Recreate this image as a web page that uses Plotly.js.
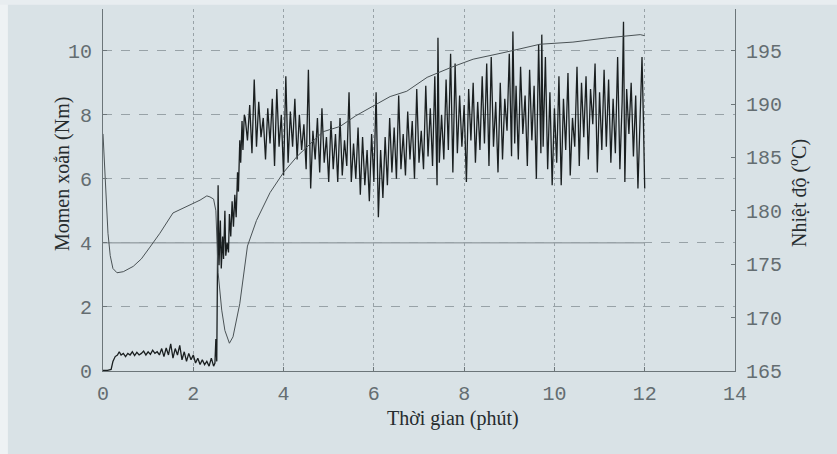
<!DOCTYPE html>
<html>
<head>
<meta charset="utf-8">
<script src="https://cdn.plot.ly/plotly-3.0.1.min.js"></script>
<style>html,body{margin:0;padding:0;background:#d9e2e6;}#chart{width:837px;height:454px;}</style>
</head>
<body>
<div id="chart"></div>
<script>
// Temperature (°C), right axis
const tempTime = [0, 0.03, 0.07, 0.11, 0.16, 0.22, 0.31, 0.45, 0.67, 0.85, 1.04, 1.26, 1.55, 1.85, 2.15, 2.3, 2.37, 2.45, 2.50, 2.55, 2.63, 2.70, 2.80, 2.88, 2.95, 3.03, 3.2, 3.4, 3.7, 4.0, 4.3, 4.59, 4.87, 5.25, 5.6, 5.98, 6.36, 6.73, 7.18, 7.75, 8.2, 8.86, 9.68, 10.41, 11.17, 11.9, 12.0];
const tempValues = [187.2, 184.8, 180.9, 177.9, 175.8, 174.6, 174.2, 174.3, 174.8, 175.5, 176.6, 177.9, 179.8, 180.4, 181.0, 181.4, 181.3, 181.1, 180.0, 174.2, 170.7, 168.8, 167.6, 168.2, 169.5, 171.3, 176.7, 179.1, 181.7, 183.6, 185.1, 186.3, 187.4, 187.9, 188.9, 189.8, 190.7, 191.2, 192.5, 193.5, 194.2, 194.8, 195.6, 195.8, 196.2, 196.5, 196.4];

// Torque (Nm), left axis
const torqueTime = [
 0.00,0.10,0.18,0.22,0.27,0.32,0.36,0.40,0.45,0.50,0.55,0.60,0.65,0.70,0.75,0.80,0.85,0.90,0.95,1.00,
 1.05,1.10,1.15,1.20,1.25,1.30,1.35,1.40,1.45,1.50,1.55,1.60,1.65,1.70,1.75,1.80,1.85,1.90,1.95,2.00,
 2.05,2.10,2.15,2.20,2.25,2.30,2.35,2.40,2.45,2.48,2.50,2.52,2.55,2.57,2.60,2.62,2.65,2.67,2.70,2.72,
 2.75,2.78,2.80,2.83,2.86,2.89,2.92,2.95,2.98,3.00,3.03,3.05,3.08,3.10,3.13,
 3.15,3.20,3.25,3.30,3.35,3.40,3.45,3.50,3.55,3.60,3.65,3.70,3.75,3.80,3.85,3.90,3.95,4.00,
 4.05,4.10,4.15,4.20,4.25,4.30,4.35,4.40,4.45,4.50,4.55,4.60,4.65,4.70,4.75,4.80,4.85,4.90,4.95,5.00,
 5.05,5.10,5.15,5.20,5.25,5.30,5.35,5.40,5.45,5.50,5.55,5.60,5.65,5.70,5.75,5.80,5.85,5.90,5.95,6.00,
 6.05,6.10,6.15,6.20,6.25,6.30,6.35,6.40,6.45,6.50,6.55,6.60,6.65,6.70,6.75,6.80,6.85,6.90,6.95,7.00,
 7.05,7.10,7.15,7.20,7.25,7.30,7.35,7.40,7.42,7.45,7.50,7.55,7.60,7.65,7.70,7.75,7.80,7.85,7.90,7.95,
 8.00,8.05,8.10,8.15,8.20,8.25,8.30,8.35,8.40,8.45,8.50,8.55,8.60,8.65,8.70,8.75,8.80,8.85,8.90,8.95,
 9.00,9.05,9.08,9.12,9.15,9.20,9.25,9.30,9.35,9.40,9.45,9.50,9.55,9.60,9.65,9.70,9.72,9.75,9.80,9.85,
 9.90,9.95,10.00,10.05,10.10,10.15,10.20,10.25,10.30,10.35,10.40,10.45,10.50,10.55,10.60,10.65,10.70,10.75,10.80,10.85,
 10.90,10.95,11.00,11.05,11.10,11.15,11.20,11.25,11.30,11.35,11.40,11.45,11.50,11.53,11.56,11.60,11.65,11.70,11.75,11.80,
 11.85,11.90,11.94,11.97,12.00];
const torqueValues = [
 0.02,0.02,0.05,0.30,0.45,0.50,0.60,0.50,0.55,0.45,0.55,0.50,0.60,0.48,0.58,0.50,0.55,0.62,0.50,0.60,
 0.52,0.65,0.55,0.60,0.50,0.70,0.45,0.72,0.50,0.85,0.40,0.70,0.50,0.80,0.35,0.60,0.30,0.55,0.35,0.50,
 0.25,0.40,0.20,0.35,0.20,0.30,0.15,0.40,0.15,0.25,1.00,0.30,5.80,3.30,4.70,3.20,4.20,3.50,5.00,3.60,
 4.00,3.70,4.90,4.20,5.30,4.50,5.50,4.80,6.20,5.60,7.20,6.50,7.80,6.90,8.00,
 7.90,7.20,8.30,6.80,9.10,7.00,8.40,7.30,7.90,6.60,8.20,7.10,8.50,6.40,8.80,7.00,8.00,6.10,
 9.20,6.50,8.10,7.00,8.50,6.60,8.00,6.90,7.70,6.30,9.40,5.70,7.50,6.60,7.90,6.20,8.20,6.50,7.30,5.90,
 7.80,6.30,7.40,5.90,7.90,6.10,7.20,6.40,8.70,5.90,7.10,6.00,7.60,5.50,7.30,5.80,6.90,5.30,7.40,5.90,
 8.70,4.80,6.90,5.40,7.30,5.80,7.90,6.20,7.60,6.00,8.60,6.30,7.40,6.10,8.10,6.60,7.80,6.00,8.80,6.50,
 7.50,6.30,8.90,6.70,8.20,6.40,9.20,5.80,10.40,6.50,8.00,6.60,9.10,6.90,9.90,6.20,9.60,6.80,8.60,7.00,
 8.30,5.90,8.80,7.20,9.00,6.50,8.40,6.90,9.20,7.10,9.60,6.40,9.80,7.00,8.40,6.20,9.00,6.60,8.50,7.50,
 9.90,6.70,10.60,7.10,8.90,6.60,9.50,7.40,8.60,6.40,9.40,7.20,8.90,6.00,10.20,6.80,10.50,7.00,9.80,6.30,
 8.70,5.80,8.20,6.50,9.20,5.80,8.50,6.90,9.30,6.10,7.90,7.00,9.50,6.40,9.00,7.30,9.20,6.60,8.80,7.70,
 9.60,6.20,8.70,6.90,9.40,7.00,9.10,6.50,8.50,6.80,9.80,6.30,8.40,10.90,5.90,8.80,7.40,9.00,6.70,8.60,
 5.70,8.00,9.80,7.90,5.70];

// Axis ticks
const xTicks = [0, 2, 4, 6, 8, 10, 12, 14];
const yTicks = [0, 2, 4, 6, 8, 10];
const y2Ticks = [165, 170, 175, 180, 185, 190, 195];

const tickFont = {family: 'Liberation Mono, Cousine, monospace', size: 20, color: '#646d71'};
const titleFont = {family: 'Liberation Serif, Times New Roman, serif', size: 20, color: '#262c2e'};

const traces = [
  {x: tempTime, y: tempValues, yaxis: 'y2', type: 'scatter', mode: 'lines',
   line: {color: '#4a5255', width: 1}, name: 'Nhiệt độ', hoverinfo: 'x+y'},
  {x: torqueTime, y: torqueValues, type: 'scatter', mode: 'lines',
   line: {color: '#1a1f20', width: 1.3}, name: 'Momen xoắn', hoverinfo: 'x+y'}
];

const layout = {
  width: 837, height: 454,
  margin: {l: 103, r: 102, t: 9, b: 83, pad: 0},
  paper_bgcolor: '#d9e2e6', plot_bgcolor: '#d9e2e6',
  showlegend: false,
  xaxis: {range: [0, 14], tickvals: xTicks, ticktext: xTicks.map(String), tickfont: tickFont,
    showgrid: true, gridcolor: '#98a2a7', griddash: 'dot', gridwidth: 1, zeroline: false,
    showline: true, linecolor: '#6c7579', linewidth: 1, ticks: 'inside', ticklen: 4, tickcolor: '#6c7579',
    ticklabelstandoff: 4},
  yaxis: {range: [0, 11.3], tickvals: yTicks, ticktext: yTicks.map(String), tickfont: tickFont,
    showgrid: true, gridcolor: '#98a2a7', griddash: 'dash', gridwidth: 1, zeroline: false,
    showline: true, linecolor: '#6c7579', linewidth: 1, ticks: 'inside', ticklen: 4, tickcolor: '#6c7579',
    ticklabelstandoff: 6},
  yaxis2: {range: [165, 198.9], overlaying: 'y', side: 'right', tickvals: y2Ticks, ticktext: y2Ticks.map(String),
    tickfont: tickFont, showgrid: false, zeroline: false,
    showline: true, linecolor: '#6c7579', linewidth: 1, ticks: 'inside', ticklen: 4, tickcolor: '#6c7579',
    ticklabelstandoff: 6},
  shapes: [
    {type: 'line', xref: 'x', yref: 'y', x0: 0, x1: 12, y0: 4, y1: 4, line: {color: '#7f898e', width: 1}, layer: 'below'},
    {type: 'rect', xref: 'paper', yref: 'paper', x0: -0.1630, x1: -0.1505, y0: -0.23, y1: 1.03,
     fillcolor: '#eef2f4', line: {width: 0}, layer: 'below'},
    {type: 'rect', xref: 'paper', yref: 'paper', x0: -0.17, x1: 1.17, y0: 1.012, y1: 1.03,
     fillcolor: '#e8edf0', line: {width: 0}, layer: 'below'}
  ],
  annotations: [
    {text: 'Thời gian (phút)', xref: 'paper', yref: 'paper', x: (453 - 103) / 632, y: -(418 - 371) / 362,
     xanchor: 'center', yanchor: 'middle', showarrow: false, font: titleFont},
    {text: 'Momen xoắn (Nm)', xref: 'paper', yref: 'paper', x: (62 - 103) / 632, y: (371 - 174) / 362,
     xanchor: 'center', yanchor: 'middle', textangle: -90, showarrow: false, font: titleFont},
    {text: 'Nhiệt độ (<sup>o</sup>C)', xref: 'paper', yref: 'paper', x: (798 - 103) / 632, y: (371 - 193) / 362,
     xanchor: 'center', yanchor: 'middle', textangle: -90, showarrow: false, font: titleFont}
  ]
};

Plotly.newPlot('chart', traces, layout, {staticPlot: true, displayModeBar: false});
</script>
</body>
</html>
